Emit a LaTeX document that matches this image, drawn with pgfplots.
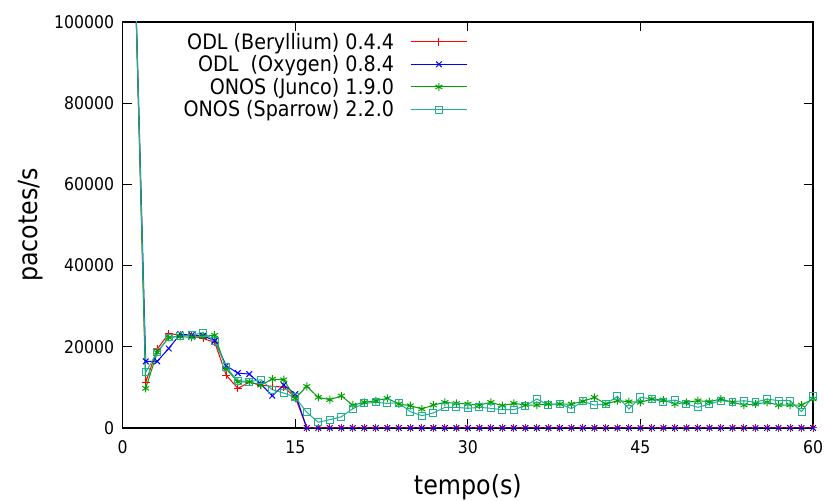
\documentclass[border=0pt]{standalone}
\usepackage{pgfplots}
\usepackage{pgfplotstable}
\pgfplotsset{compat=1.18}
\usepackage{fontspec}
\setmainfont{DejaVu Sans Condensed}
\definecolor{lineRed}{RGB}{255,0,0}
\definecolor{lineBlue}{RGB}{0,0,255}
\definecolor{lineGreen}{RGB}{0,160,0}
\definecolor{lineTeal}{RGB}{30,176,144}
\pgfplotstableread{
t r b g c
1 120000 120000 120000 120000
2 11230 16390 9750 13680
3 19400 16400 18600 18750
4 23260 19580 22280 22280
5 22850 23100 22530 22690
6 22690 22850 22280 22850
7 22040 22690 22530 23500
8 21050 21460 22850 21460
9 13020 15320 14500 14900
10 9750 13510 11380 11630
11 11230 13270 11380 11380
12 10560 10800 10560 11880
13 10240 7940 12040 9420
14 10070 10560 11880 8600
15 7540 8350 7300 7540
16 0 0 10240 3850
17 0 0 7540 1400
18 0 0 6960 2040
19 0 0 7900 2750
20 0 0 5600 4750
21 0 0 6310 6060
22 0 0 6720 6310
23 0 0 7300 6060
24 0 0 5900 6150
25 0 0 5490 4010
26 0 0 4670 3030
27 0 0 5650 3690
28 0 0 6310 5080
29 0 0 6060 5080
30 0 0 5900 4830
31 0 0 5650 5080
32 0 0 6310 4830
33 0 0 5490 4500
34 0 0 6060 4500
35 0 0 5650 5490
36 0 0 5650 7130
37 0 0 5900 5650
38 0 0 5900 5900
39 0 0 5900 4750
40 0 0 6550 6550
41 0 0 7540 5650
42 0 0 5900 5900
43 0 0 6720 7780
44 0 0 6470 4670
45 0 0 6310 7540
46 0 0 7130 7130
47 0 0 6880 6470
48 0 0 5900 6880
49 0 0 6310 5900
50 0 0 6720 5080
51 0 0 6470 5900
52 0 0 7130 6720
53 0 0 6310 6470
54 0 0 5650 6720
55 0 0 5900 6310
56 0 0 6310 7130
57 0 0 5650 6720
58 0 0 5650 6720
59 0 0 5650 4010
60 0 0 7130 7780
}\data
\begin{document}
\begin{tikzpicture}
\useasboundingbox (-123pt,-73pt) rectangle (704pt,429pt);
\begin{axis}[
  at={(0pt,0pt)}, anchor=south west,
  scale only axis, width=692pt, height=407pt,
  xmin=0, xmax=60, ymin=0, ymax=100000,
  xtick={0,15,30,45,60},
  ytick={0,20000,40000,60000,80000,100000},
  scaled y ticks=false,
  /pgf/number format/assume math mode=true,
  yticklabel style={/pgf/number format/fixed,/pgf/number format/1000 sep={}, font=\fontsize{17.5}{21}\selectfont, xshift=-5pt},
  xticklabel style={font=\fontsize{17.5}{21}\selectfont, yshift=-9pt},
  tick align=inside, major tick length=9pt,
  xtick pos=both, ytick pos=both,
  axis line style={black, line width=1.4pt},
  every tick/.style={black, line width=1pt},
  xlabel={tempo(s)}, ylabel={pacotes/s},
  xlabel style={font=\fontsize{26.5}{31}\selectfont, at={(axis description cs:0.5,-0.145)}, anchor=center},
  ylabel style={font=\fontsize{26.5}{31}\selectfont, at={(axis description cs:-0.134,0.5)}, anchor=center},
  legend cell align=right, legend plot pos=right,
  legend style={draw=none, fill=none, inner sep=0pt, outer sep=0pt,
    at={(axis description cs:0.5,0.978)}, anchor=north east,
    font=\fontsize{21.3}{25}\selectfont, row sep=1pt,
    nodes={inner sep=2pt}},
  legend image code/.code={\draw[mark repeat=2,mark phase=2] plot coordinates {(0pt,0pt) (28.5pt,0pt) (57pt,0pt)};},
  every axis plot/.append style={line width=1pt, mark size=4pt},
]
\addplot[color=lineRed, mark=+, mark options={line width=1pt, draw=lineRed}, legend image post style={draw=lineRed}] table[x=t,y=r]{\data};
\addlegendentry{ODL (Beryllium) 0.4.4\hspace*{14pt}}
\addplot[color=lineBlue, mark=x, mark options={line width=1pt, draw=lineBlue}, legend image post style={draw=lineBlue}] table[x=t,y=b]{\data};
\addlegendentry{ODL\ \ (Oxygen) 0.8.4\hspace*{14pt}}
\addplot[color=lineGreen, mark=asterisk, mark options={line width=1pt, draw=lineGreen}, legend image post style={draw=lineGreen}] table[x=t,y=g]{\data};
\addlegendentry{ONOS (Junco) 1.9.0\hspace*{14pt}}
\addplot[color=lineTeal, mark=square, mark options={line width=1pt, mark size=3.5pt, draw=lineTeal}, legend image post style={draw=lineTeal}] table[x=t,y=c]{\data};
\addlegendentry{ONOS (Sparrow) 2.2.0\hspace*{14pt}}
\end{axis}
\end{tikzpicture}
\end{document}
